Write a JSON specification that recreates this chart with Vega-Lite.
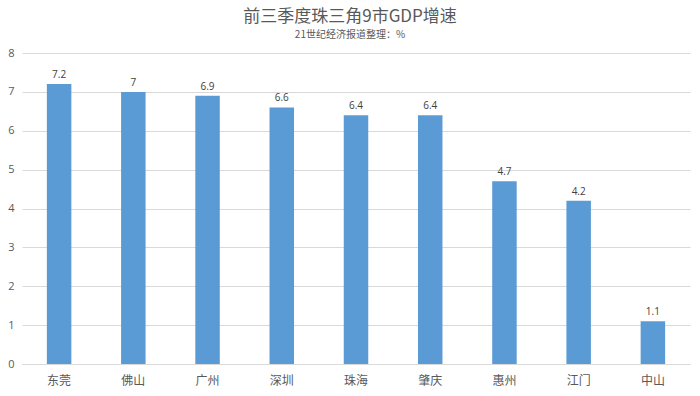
{
  "$schema": "https://vega.github.io/schema/vega-lite/v6.json",
  "width": 668,
  "height": 311,
  "autosize": {"type": "none"},
  "padding": {"left": 22, "top": 53, "right": 10, "bottom": 32},
  "background": "white",
  "title": {
    "text": "前三季度珠三角9市GDP增速",
    "subtitle": "21世纪经济报道整理：%",
    "anchor": "middle",
    "dx": -6,
    "offset": 6,
    "font": "Noto Sans CJK SC",
    "fontSize": 17,
    "fontWeight": "normal",
    "color": "#595959",
    "subtitleFont": "Noto Sans CJK SC",
    "subtitleFontSize": 10,
    "subtitleColor": "#595959",
    "subtitlePadding": 4
  },
  "data": {
    "values": [
      {"city": "东莞", "v": 7.2},
      {"city": "佛山", "v": 7},
      {"city": "广州", "v": 6.9},
      {"city": "深圳", "v": 6.6},
      {"city": "珠海", "v": 6.4},
      {"city": "肇庆", "v": 6.4},
      {"city": "惠州", "v": 4.7},
      {"city": "江门", "v": 4.2},
      {"city": "中山", "v": 1.1}
    ]
  },
  "encoding": {
    "x": {
      "field": "city", "type": "nominal", "sort": null,
      "scale": {"paddingInner": 0.67, "paddingOuter": 0.335},
      "axis": {
        "title": null, "labelAngle": 0, "ticks": false, "domain": true,
        "domainColor": "#d9d9d9", "labelFont": "Noto Sans CJK SC",
        "labelFontSize": 12, "labelColor": "#595959", "labelPadding": 11
      }
    },
    "y": {
      "field": "v", "type": "quantitative",
      "scale": {"domain": [0, 8]},
      "axis": {
        "title": null, "tickCount": 8, "domain": false, "ticks": false,
        "gridColor": "#d9d9d9", "labelFont": "Open Sans", "labelFontSize": 11,
        "labelColor": "#595959", "labelPadding": 8
      }
    }
  },
  "layer": [
    {"mark": {"type": "bar", "color": "#5b9bd5"}},
    {
      "mark": {"type": "text", "dy": -9, "font": "Open Sans", "fontSize": 10, "color": "#404040"},
      "encoding": {"text": {"field": "v", "type": "quantitative"}}
    }
  ],
  "config": {"view": {"stroke": null}}
}
